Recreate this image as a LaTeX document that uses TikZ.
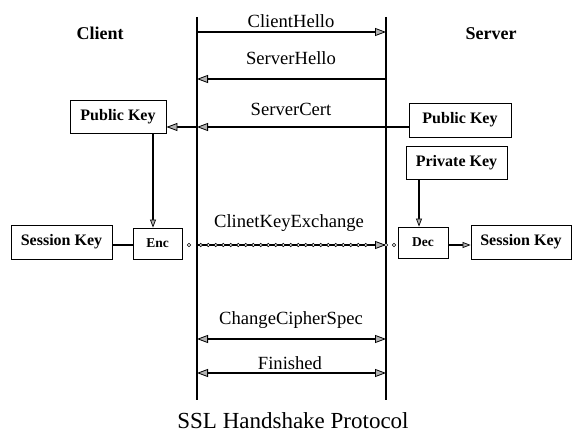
\documentclass[tikz,border=0pt]{standalone}
\usepackage{fontspec}
\setmainfont{Liberation Serif}
\usetikzlibrary{arrows.meta,decorations.markings}

\begin{document}
\begin{tikzpicture}[x=1pt,y=-1pt,
  lifeline/.style={line width=1.8pt},
  msg/.style={line width=1.1pt},
  head/.style={-{Triangle[length=11pt,width=8pt,fill=gray!60,line width=0.8pt]}},
  twohead/.style={{Triangle[length=11pt,width=8pt,fill=gray!60,line width=0.8pt]}-{Triangle[length=11pt,width=8pt,fill=gray!60,line width=0.8pt]}},
  smallhead/.style={-{Triangle[length=8pt,width=6pt,fill=gray!60,line width=0.7pt]}},
  msglabel/.style={anchor=base, inner sep=0pt, font=\fontsize{18.6}{20}\selectfont},
  party/.style={anchor=base, inner sep=0pt, font=\bfseries\fontsize{18}{20}\selectfont},
  keybox/.style={draw, line width=0.9pt, inner sep=0pt, font=\bfseries\fontsize{16}{18}\selectfont},
  opbox/.style={draw, line width=0.9pt, inner sep=0pt, font=\bfseries\fontsize{13.5}{15}\selectfont},
  dotmark/.style={draw, fill=white, line width=0.6pt, circle, inner sep=0pt, minimum size=3.4pt},
  chain/.style={msg, postaction=decorate,
    decoration={markings,
      mark=between positions 0.02 and 0.93 step 7.5pt with
        {\draw[fill=white, line width=0.6pt] (0,0) circle (1.7pt);}}},
]
\useasboundingbox (0,0) rectangle (572,433);

% lifelines of client and server
\coordinate (cTop) at (197,17);
\coordinate (cBot) at (197,400);
\coordinate (sTop) at (386,17);
\coordinate (sBot) at (386,400);
\draw[lifeline] (cTop) -- (cBot);
\draw[lifeline] (sTop) -- (sBot);

% parties
\node[party] (client) at (100,40) {Client};
\node[party] (server) at (491,40) {Server};

% message end points on the lifelines
\coordinate (c1) at (197,32);  \coordinate (s1) at (386,32);
\coordinate (c2) at (197,79);  \coordinate (s2) at (386,79);
\coordinate (c3) at (197,127); \coordinate (s3) at (386,127);
\coordinate (c4) at (197,245); \coordinate (s4) at (386,245);
\coordinate (c5) at (197,339); \coordinate (s5) at (386,339);
\coordinate (c6) at (197,373); \coordinate (s6) at (386,373);

% key and operation boxes
\node[keybox, minimum width=96pt, minimum height=33pt] (cpub) at (118,116.5) {Public Key};
\node[keybox, minimum width=102pt, minimum height=34pt] (spub) at (460,120) {Public Key};
\node[keybox, minimum width=101pt, minimum height=33pt] (spriv) at (456.5,162.5) {Private Key};
\node[keybox, minimum width=101pt, minimum height=34pt] (csess) at (61.5,242) {Session Key};
\node[opbox, minimum width=49pt, minimum height=31pt] (enc) at (157.5,243.5) {Enc};
\node[opbox, minimum width=50pt, minimum height=31pt] (dec) at (423,242.5) {Dec};
\node[keybox, minimum width=100pt, minimum height=34pt] (ssess) at (521,242) {Session Key};

% messages
\draw[msg, head] (c1) -- (s1);
\node[msglabel] (lhello) at (291,28) {ClientHello};
\draw[msg, head] (s2) -- (c2);
\node[msglabel] (shello) at (291,65) {ServerHello};
\draw[msg, head] (s3) -- (c3);
\node[msglabel] (scert) at (291,115) {ServerCert};
\draw[chain, head] (c4) -- (s4);
\node[msglabel] (kex) at (289,227) {ClinetKeyExchange};
\draw[msg, twohead] (c5) -- (s5);
\node[msglabel] (ccs) at (291,324) {ChangeCipherSpec};
\draw[msg, twohead] (c6) -- (s6);
\node[msglabel] (fin) at (290,369) {Finished};

% key flow on the client side
\draw[msg, head] (c3) -- (cpub.east |- c3);
\draw[msg, smallhead] (cpub.south -| 153,0) -- (enc.north -| 153,0);
\draw[msg] (csess.east |- 0,245) -- (enc.west |- 0,245);
\node[dotmark] (cdot) at (189,245) {};

% key flow on the server side
\draw[msg] (s3) -- (spub.west |- s3);
\draw[msg, smallhead] (spriv.south -| 419,0) -- (dec.north -| 419,0);
\draw[msg, smallhead] (dec.east |- 0,245) -- (ssess.west |- 0,245);
\node[dotmark] (sdot1) at (386,245) {};
\node[dotmark] (sdot2) at (394,245) {};

% caption
\node[anchor=base, inner sep=0pt, font=\fontsize{23}{26}\selectfont] (caption) at (293,428) {SSL Handshake Protocol};
\end{tikzpicture}
\end{document}
